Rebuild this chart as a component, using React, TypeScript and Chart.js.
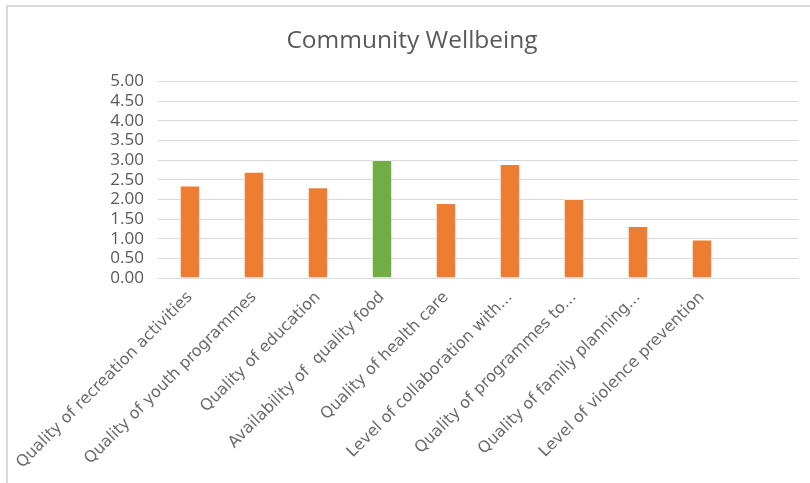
import React, { useEffect, useRef } from "react";
import { Chart, registerables } from "chart.js";

Chart.register(...registerables);

const categories = [
  "Quality of recreation activities",
  "Quality of youth programmes",
  "Quality of education",
  "Availability of  quality food",
  "Quality of health care",
  "Level of collaboration with...",
  "Quality of programmes to...",
  "Quality of family planning...",
  "Level of violence prevention",
  "",
];
const values = [2.35, 2.7, 2.31, 3.0, 1.91, 2.9, 2.01, 1.32, 0.98, null];
const barColors = ["#ED7D31", "#ED7D31", "#ED7D31", "#70AD47", "#ED7D31", "#ED7D31", "#ED7D31", "#ED7D31", "#ED7D31", "#ED7D31"];
const yMin = 0;
const yMax = 5;
const yStep = 0.5;

export default function App() {
  const ref = useRef<HTMLCanvasElement>(null);
  useEffect(() => {
    if (!ref.current) return;
    const chart = new Chart(ref.current, {
      type: "bar",
      data: {
        labels: categories,
        datasets: [
          {
            data: values as any,
            backgroundColor: barColors,
            borderColor: "rgba(255,255,255,0.45)",
            borderWidth: 1,
            barPercentage: 0.32,
            categoryPercentage: 1,
          },
        ],
      },
      options: {
        responsive: false,
        animation: false,
        layout: { padding: { left: 26, right: 12, top: 0, bottom: 0 } },
        plugins: {
          legend: { display: false },
          tooltip: { enabled: false },
          title: {
            display: true,
            text: "Community Wellbeing",
            color: "#595959",
            font: { family: "'Open Sans', 'Noto Sans', sans-serif", size: 24.5, weight: "normal" },
            padding: { top: 26, bottom: 26 },
          },
        },
        scales: {
          x: {
            grid: { display: false },
            border: { display: true, color: "#d9d9d9", width: 1 },
            ticks: {
              color: "#6a6a6a",
              font: { family: "DejaVu Sans", size: 16 },
              minRotation: 45,
              maxRotation: 45,
              autoSkip: false,
              padding: 2,
            },
            afterFit: (s: any) => {
              s.height = 205;
            },
          },
          y: {
            min: yMin,
            max: yMax,
            grid: { color: "#d9d9d9", drawTicks: false, lineWidth: 1 },
            border: { display: false },
            ticks: {
              stepSize: yStep,
              autoSkip: false,
              color: "#595959",
              font: { family: "'Open Sans', 'Noto Sans', sans-serif", size: 17 },
              padding: 14,
              callback: (v: any) => Number(v).toFixed(2),
            },
            afterFit: (s: any) => {
              s.width = 132;
            },
          },
        },
      },
    });
    return () => chart.destroy();
  }, []);
  return (
    <div style={{ position: "fixed", left: 0, top: 0, width: 810, height: 483, background: "#fff", overflow: "hidden" }}>
      <div
        style={{
          position: "absolute",
          left: 6,
          top: 5,
          width: 820,
          height: 500,
          border: "2px solid #d9d9d9",
          boxSizing: "border-box",
        }}
      />
      <canvas ref={ref} width={810} height={483} style={{ position: "absolute", left: 0, top: 0 }} />
    </div>
  );
}
